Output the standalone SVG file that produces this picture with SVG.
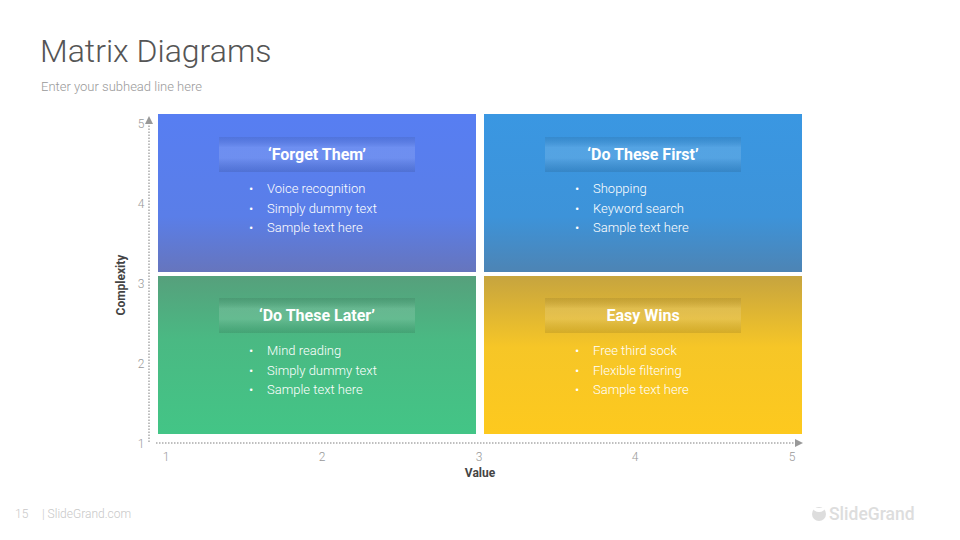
<svg xmlns="http://www.w3.org/2000/svg" width="960" height="540" viewBox="0 0 960 540">
<defs>
<linearGradient id="gBlue" x1="0" y1="0" x2="0" y2="1">
<stop offset="0" stop-color="#577ef2"/><stop offset="0.65" stop-color="#5a7ee8"/><stop offset="1" stop-color="#6675bd"/>
</linearGradient>
<linearGradient id="gSky" x1="0" y1="0" x2="0" y2="1">
<stop offset="0" stop-color="#3a97e2"/><stop offset="0.65" stop-color="#3d93d9"/><stop offset="1" stop-color="#4d84b4"/>
</linearGradient>
<linearGradient id="gGreen" x1="0" y1="0" x2="0" y2="1">
<stop offset="0" stop-color="#56a07c"/><stop offset="0.4" stop-color="#4ab983"/><stop offset="1" stop-color="#43c586"/>
</linearGradient>
<linearGradient id="gYellow" x1="0" y1="0" x2="0" y2="1">
<stop offset="0" stop-color="#c6a43f"/><stop offset="0.45" stop-color="#f6c627"/><stop offset="1" stop-color="#fdc91e"/>
</linearGradient>
<linearGradient id="gLabel" x1="0" y1="0" x2="0" y2="1">
<stop offset="0" stop-color="#000" stop-opacity="0.08"/>
<stop offset="0.3" stop-color="#fff" stop-opacity="0.13"/>
<stop offset="0.6" stop-color="#fff" stop-opacity="0.13"/>
<stop offset="1" stop-color="#000" stop-opacity="0.1"/>
</linearGradient>
<marker id="arr" viewBox="0 0 10 10" refX="5" refY="5" markerWidth="8" markerHeight="8" orient="auto" markerUnits="userSpaceOnUse">
<path d="M0,0 L10,5 L0,10 Z" fill="#999"/>
</marker>
</defs>
<style>
.title{font-family:Roboto,"Liberation Sans",sans-serif;font-weight:300;font-size:32px;fill:#555}
.sub{font-family:Roboto,"Liberation Sans",sans-serif;font-weight:300;font-size:13px;fill:#999}
.lbl{font-family:Roboto,"Liberation Sans",sans-serif;font-weight:700;font-size:16px;fill:#fff;text-anchor:middle}
.item{font-family:Roboto,"Liberation Sans",sans-serif;font-weight:300;font-size:13px;fill:#fff}
.tick{font-family:Roboto,"Liberation Sans",sans-serif;font-weight:300;font-size:12px;fill:#999}
.axis{font-family:Roboto,"Liberation Sans",sans-serif;font-weight:700;font-size:12px;fill:#444;text-anchor:middle}
.foot{font-family:Roboto,"Liberation Sans",sans-serif;font-weight:300;font-size:12px;fill:#c8c8c8}
.dot{stroke:#aaa;stroke-width:1.5;stroke-dasharray:1.5 1.5;fill:none}
</style>
<rect width="960" height="540" fill="#fff"/>
<text class="title" x="40" y="62">Matrix Diagrams</text>
<text class="sub" x="41" y="91">Enter your subhead line here</text>

<g id="axes">
<line class="dot" x1="149" y1="442" x2="149" y2="120" marker-end="url(#arr)"/>
<line class="dot" x1="156" y1="443" x2="799" y2="443" marker-end="url(#arr)"/>
<g class="tick" text-anchor="middle">
<text x="141" y="128">5</text><text x="141" y="208">4</text><text x="141" y="288">3</text><text x="141" y="368">2</text><text x="141" y="448">1</text>
<text x="166" y="461">1</text><text x="322" y="461">2</text><text x="479" y="461">3</text><text x="635" y="461">4</text><text x="792" y="461">5</text>
</g>
<text class="axis" x="0" y="0" transform="translate(125,285) rotate(-90)">Complexity</text>
<text class="axis" x="480" y="477">Value</text>
</g>

<g id="forget">
<rect x="158" y="114" width="318" height="158" fill="url(#gBlue)"/>
<rect x="219" y="137" width="196" height="35" fill="url(#gLabel)"/>
<text class="lbl" x="317" y="160">‘Forget Them’</text>
<text class="item" x="249" y="193">•</text><text class="item" x="267" y="193">Voice recognition</text>
<text class="item" x="249" y="213">•</text><text class="item" x="267" y="213">Simply dummy text</text>
<text class="item" x="249" y="232">•</text><text class="item" x="267" y="232">Sample text here</text>
</g>

<g id="first">
<rect x="484" y="114" width="318" height="158" fill="url(#gSky)"/>
<rect x="545" y="137" width="196" height="35" fill="url(#gLabel)"/>
<text class="lbl" x="643" y="160">‘Do These First’</text>
<text class="item" x="575" y="193">•</text><text class="item" x="593" y="193">Shopping</text>
<text class="item" x="575" y="213">•</text><text class="item" x="593" y="213">Keyword search</text>
<text class="item" x="575" y="232">•</text><text class="item" x="593" y="232">Sample text here</text>
</g>

<g id="later">
<rect x="158" y="276" width="318" height="158" fill="url(#gGreen)"/>
<rect x="219" y="298" width="196" height="35" fill="url(#gLabel)"/>
<text class="lbl" x="317" y="321">‘Do These Later’</text>
<text class="item" x="249" y="355">•</text><text class="item" x="267" y="355">Mind reading</text>
<text class="item" x="249" y="375">•</text><text class="item" x="267" y="375">Simply dummy text</text>
<text class="item" x="249" y="394">•</text><text class="item" x="267" y="394">Sample text here</text>
</g>

<g id="easy">
<rect x="484" y="276" width="318" height="158" fill="url(#gYellow)"/>
<rect x="545" y="298" width="196" height="35" fill="url(#gLabel)"/>
<text class="lbl" x="643" y="321">Easy Wins</text>
<text class="item" x="575" y="355">•</text><text class="item" x="593" y="355">Free third sock</text>
<text class="item" x="575" y="375">•</text><text class="item" x="593" y="375">Flexible filtering</text>
<text class="item" x="575" y="394">•</text><text class="item" x="593" y="394">Sample text here</text>
</g>

<g id="footer">
<text class="foot" x="15" y="518">15</text>
<text class="foot" x="42" y="518">| SlideGrand.com</text>
<circle cx="819" cy="514" r="7" fill="#ddd"/>
<path d="M813,508 a6,4 0 0 0 12,0" fill="#fff"/>
<text x="829" y="520" style="font-family:Roboto,'Liberation Sans',sans-serif;font-weight:500;font-size:17.5px;fill:#ddd">SlideGrand</text>
</g>
</svg>
